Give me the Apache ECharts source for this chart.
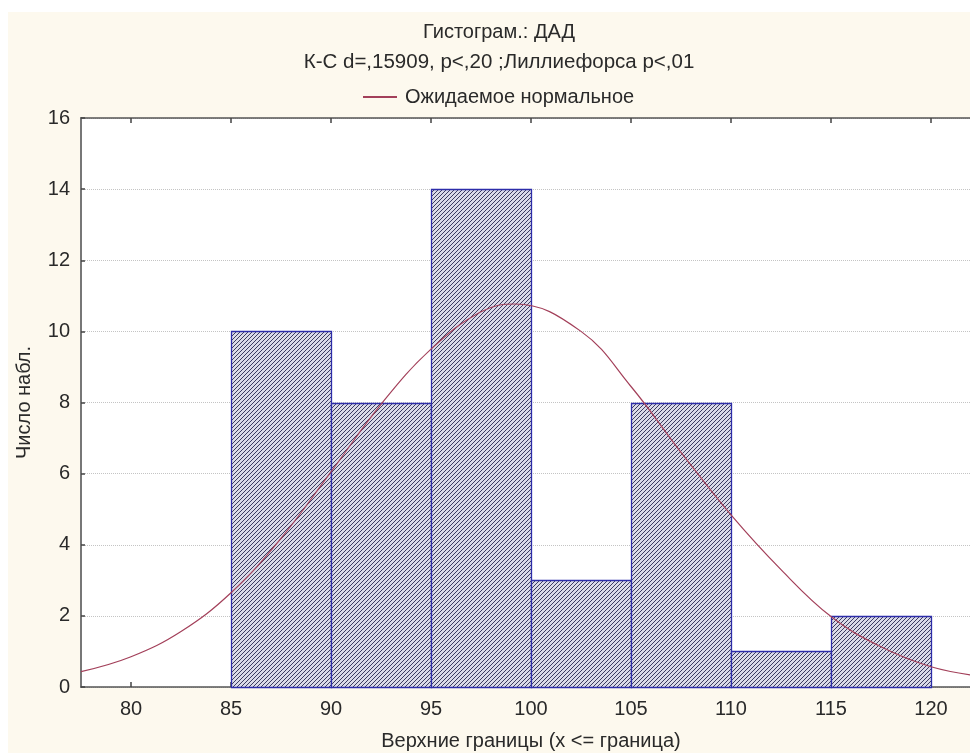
<!DOCTYPE html>
<html>
<head>
<meta charset="utf-8">
<script src="https://cdn.jsdelivr.net/npm/echarts@6/dist/echarts.min.js"></script>
<style>
  html, body { margin: 0; padding: 0; background: #ffffff; }
  #chart { width: 970px; height: 753px; }
</style>
</head>
<body>
<div id="chart"></div>
<script>
// Histogram classes (lower / upper bounds) and observed counts
const binLower = [85, 90, 95, 100, 105, 110, 115];
const binUpper = [90, 95, 100, 105, 110, 115, 120];
const counts = [10, 8, 14, 3, 8, 1, 2];

// Expected normal curve, sampled along the x axis
const curveX = [77.5, 80, 82.5, 85, 87.5, 90, 92.5, 95, 97.5, 99.2, 102.5, 105, 107.5, 110, 112.5, 115, 117.5, 120, 122.5];
const curveY = [0.43, 0.85, 1.56, 2.65, 4.18, 6.05, 7.95, 9.5, 10.55, 10.77, 10.0, 8.45, 6.6, 4.84, 3.3, 1.98, 1.13, 0.57, 0.3];

// Tick labels
const xTicks = [80, 85, 90, 95, 100, 105, 110, 115, 120];
const yMin = 0, yMax = 16, yStep = 2;

const titleText = 'Гистограм.: ДАД';
const subtitleText = 'К-С d=,15909, p<,20 ;Лиллиефорса p<,01';
const curveName = 'Ожидаемое нормальное';
const xName = 'Верхние границы (x <= граница)';
const yName = 'Число набл.';

const FONT = '"Liberation Sans", Arial, sans-serif';
const TEXT = '#2a2a2a';
const CURVE = '#a3405a';

// Diagonal "/" hatching tile for the bars
function hatchTile() {
  const c = document.createElement('canvas');
  c.width = 4; c.height = 4;
  const ctx = c.getContext('2d');
  ctx.fillStyle = '#dadae8';
  ctx.fillRect(0, 0, 4, 4);
  ctx.fillStyle = '#3c3c60';
  for (let i = 0; i < 4; i++) ctx.fillRect(i, 3 - i, 1, 1);
  return c;
}
const hatch = { image: hatchTile(), repeat: 'repeat' };

const chart = echarts.init(document.getElementById('chart'), null, { renderer: 'canvas' });

const axisCommon = {
  type: 'value',
  min: 77.5,
  max: 122.5,
  splitLine: { show: false }
};

chart.setOption({
  backgroundColor: '#ffffff',
  animation: false,
  textStyle: { fontFamily: FONT },
  graphic: [
    { type: 'rect', z: -10, silent: true, shape: { x: 8, y: 12, width: 962, height: 741 }, style: { fill: '#fdf9ee' } },
    { type: 'text', x: 499, y: 32, style: { text: titleText, font: '20px ' + FONT, fill: TEXT, textAlign: 'center', textVerticalAlign: 'middle' } },
    { type: 'text', x: 499, y: 62, style: { text: subtitleText, font: '20.5px ' + FONT, fill: TEXT, textAlign: 'center', textVerticalAlign: 'middle' } }
  ],
  legend: {
    data: [curveName],
    left: 358,
    top: 82,
    icon: 'rect',
    itemWidth: 34,
    itemHeight: 2,
    itemGap: 10,
    textStyle: { fontSize: 20, color: TEXT, fontFamily: FONT, padding: [0, 0, 0, 3] }
  },
  grid: {
    left: 81,
    top: 118,
    width: 900,
    height: 569,
    outerBoundsMode: 'none',
    containLabel: false,
    show: true,
    backgroundColor: '#ffffff',
    borderWidth: 0
  },
  xAxis: [
    Object.assign({}, axisCommon, {
      position: 'bottom',
      axisLine: { show: true, onZero: false, lineStyle: { color: '#555', width: 1.5 } },
      axisTick: { show: true, inside: true, length: 5, customValues: xTicks, lineStyle: { color: '#444', width: 1.5 } },
      axisLabel: { customValues: xTicks, margin: 12, fontSize: 20, color: TEXT, fontFamily: FONT },
      name: xName,
      nameLocation: 'middle',
      nameGap: 44,
      nameTextStyle: { fontSize: 20, color: TEXT, fontFamily: FONT }
    }),
    Object.assign({}, axisCommon, {
      position: 'top',
      axisLine: { show: true, onZero: false, lineStyle: { color: '#555', width: 1.5 } },
      axisTick: { show: true, inside: true, length: 5, customValues: xTicks, lineStyle: { color: '#444', width: 1.5 } },
      axisLabel: { show: false }
    })
  ],
  yAxis: {
    type: 'value',
    min: yMin,
    max: yMax,
    interval: yStep,
    axisLine: { show: true, lineStyle: { color: '#777', width: 2 } },
    axisTick: { show: true, inside: true, length: 4, lineStyle: { color: '#444', width: 1.5 } },
    axisLabel: { margin: 11, fontSize: 20, color: TEXT, fontFamily: FONT },
    splitLine: { show: true, lineStyle: { color: '#c4c4c4', type: 'dotted', width: 1 } },
    name: yName,
    nameLocation: 'middle',
    nameGap: 47,
    nameTextStyle: { fontSize: 20, color: TEXT, fontFamily: FONT }
  },
  series: [
    {
      type: 'custom',
      name: 'Гистограмма',
      xAxisIndex: 0,
      data: counts.map((c, i) => [binLower[i], binUpper[i], c]),
      encode: { x: [0, 1], y: 2 },
      renderItem: function (params, api) {
        const topLeft = api.coord([api.value(0), api.value(2)]);
        const bottomRight = api.coord([api.value(1), 0]);
        return {
          type: 'rect',
          shape: {
            x: Math.round(topLeft[0]) + 0.5,
            y: Math.round(topLeft[1]) + 0.5,
            width: Math.round(bottomRight[0]) - Math.round(topLeft[0]),
            height: Math.round(bottomRight[1]) - Math.round(topLeft[1])
          },
          style: { fill: hatch, stroke: '#2d2daa', lineWidth: 1.3 }
        };
      },
      z: 2
    },
    {
      type: 'line',
      name: curveName,
      xAxisIndex: 0,
      data: curveX.map((x, i) => [x, curveY[i]]),
      smooth: 0.4,
      showSymbol: false,
      symbol: 'none',
      itemStyle: { color: CURVE },
      lineStyle: { color: CURVE, width: 1.2 },
      z: 3
    }
  ]
});
</script>
</body>
</html>
